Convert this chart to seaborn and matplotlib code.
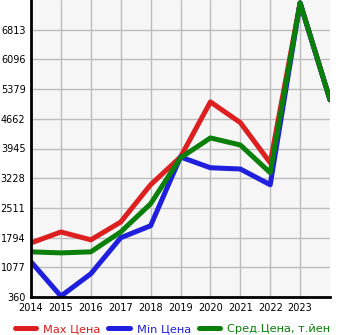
import matplotlib
matplotlib.use("Agg")
import matplotlib.pyplot as plt
import seaborn as sns
import pandas as pd

years = [2014, 2015, 2016, 2017, 2018, 2019, 2020, 2021, 2022, 2023, 2024]
max_price = [1665, 1930, 1740, 2170, 3070, 3740, 5070, 4570, 3600, 7460, 5120]
min_price = [1210, 380, 920, 1790, 2080, 3740, 3480, 3450, 3070, 7460, 5120]
avg_price = [1450, 1425, 1450, 1930, 2610, 3720, 4200, 4030, 3360, 7460, 5120]
series_names = ["Max Цена", "Min Цена", "Сред.Цена, т.йен"]
y_ticks = [360, 1077, 1794, 2511, 3228, 3945, 4662, 5379, 6096, 6813]
x_ticks = [2014, 2015, 2016, 2017, 2018, 2019, 2020, 2021, 2022, 2023]

colors = ["#dd1f1f", "#1f1fdd", "#0a7f0a"]

df = pd.DataFrame({
    "year": years * 3,
    "price": max_price + min_price + avg_price,
    "series": [series_names[0]] * len(years) + [series_names[1]] * len(years) + [series_names[2]] * len(years),
})

sns.set_theme(style="whitegrid")
plt.rcParams["font.family"] = ["DejaVu Sans"]

fig = plt.figure(figsize=(3.45, 3.35), dpi=100)
ax = fig.add_axes([31 / 345, 38 / 335, 299 / 345, 297 / 335])
ax.set_facecolor("#f6f6f6")

sns.lineplot(data=df, x="year", y="price", hue="series", palette=colors,
             linewidth=3.6, ax=ax, legend=False)

ax.set_xlim(2014, 2024)
ax.set_ylim(360, 7530)
ax.set_xticks(x_ticks)
ax.set_xticklabels([str(y) for y in x_ticks])
ax.set_yticks(y_ticks)
ax.set_yticklabels([str(v) for v in y_ticks])
ax.set_xlabel("")
ax.set_ylabel("")
ax.grid(True, color="#bdbdbd", linewidth=1.0)
ax.set_axisbelow(True)

for side in ("top", "right"):
    ax.spines[side].set_visible(False)
for side in ("left", "bottom"):
    ax.spines[side].set_visible(True)
    ax.spines[side].set_color("black")
    ax.spines[side].set_linewidth(2)

ax.tick_params(axis="both", labelsize=7, colors="black", length=3, width=1, pad=1)

handles = [plt.Line2D([0], [0], color=c, linewidth=3.6) for c in colors]
leg = fig.legend(handles, series_names, loc="lower center", bbox_to_anchor=(0.5, -0.012),
                 ncol=3, frameon=False, fontsize=8.2, handlelength=1.9,
                 handletextpad=0.6, columnspacing=0.7, borderaxespad=0)
for txt, c in zip(leg.get_texts(), colors):
    txt.set_color(c)

fig.savefig("out.png", dpi=100)
